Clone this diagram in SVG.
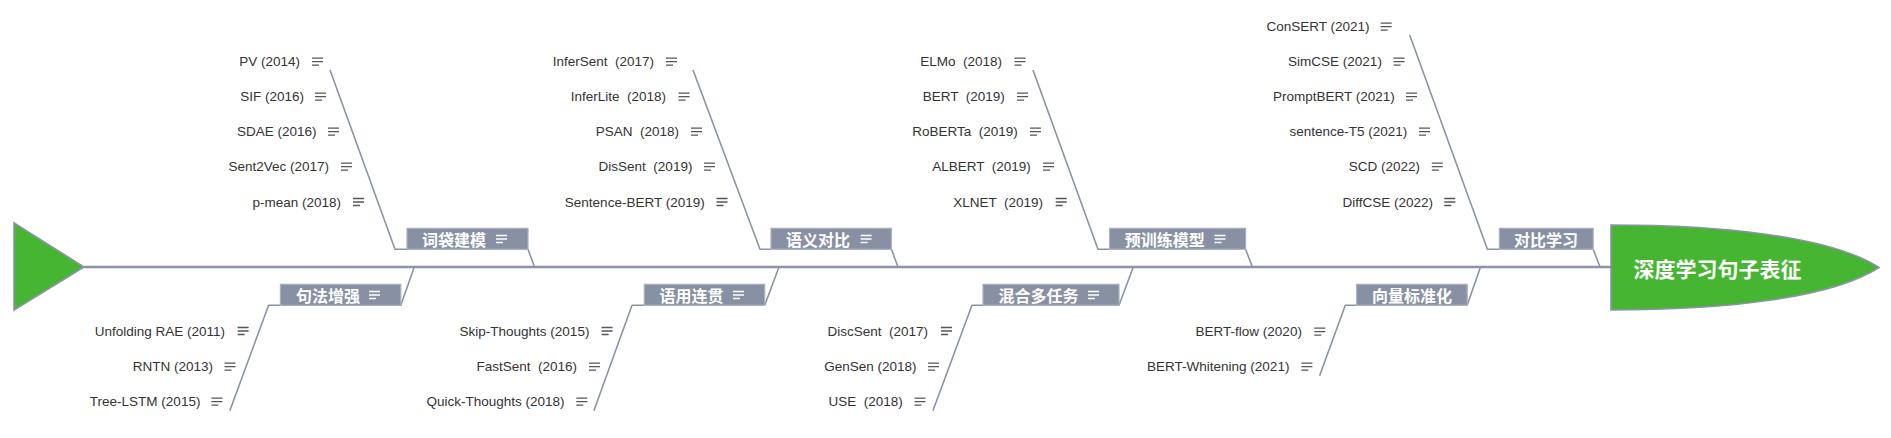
<svg xmlns="http://www.w3.org/2000/svg" xmlns:xlink="http://www.w3.org/1999/xlink" width="1891" height="438" viewBox="0 0 1891 438">
<style>
.ln{fill:none;stroke:#8a94a6;stroke-width:1.6;stroke-linejoin:round}
.spine{fill:none;stroke:#8a94a6;stroke-width:2.4}
.box{fill:#8891a4;stroke:#a9b1bf;stroke-width:1.2}
.bt{font-family:"Noto Sans CJK SC","Liberation Sans",sans-serif;font-weight:bold;font-size:16px;fill:#ffffff;dominant-baseline:central}
.it{font-family:"Liberation Sans","Noto Sans",sans-serif;font-size:13.5px;fill:#333333;text-anchor:end;dominant-baseline:central;white-space:pre}
.ic{stroke:#555555}
.icw{stroke:#ffffff}
.ht{font-family:"Noto Sans CJK SC","Liberation Sans",sans-serif;font-weight:bold;font-size:21px;fill:#ffffff;dominant-baseline:central}
.green{fill:#46b531;stroke:#8a94a6;stroke-width:1.6}
</style>
<defs>
<path id="notes" d="M0,0.5h11M0,4h11M0,7.5h7" fill="none" stroke-width="1.3"/>
</defs>
<rect width="1891" height="438" fill="#ffffff"/>

<g id="connectors">
<path class="spine" d="M84,267H1611"/>
<path class="ln" d="M330,70L395,249.3H407M528,249.3L534.5,267"/>
<path class="ln" d="M693,70L760,249.3H771M891.4,249.3L898,267"/>
<path class="ln" d="M1033,70L1098,249.3H1109.6M1245.6,249.3L1252.4,267"/>
<path class="ln" d="M1409.7,35L1487.4,249.3H1499.4M1593.2,249.3L1600,267"/>
<path class="ln" d="M414.3,267L400.8,305.3H280.4M280.4,305.3H268.6L229.8,410.7"/>
<path class="ln" d="M779,267L764.7,305.3M644.3,305.3H632L593.9,410.7"/>
<path class="ln" d="M1133.3,267L1119,305.3M983,305.3H972L932.9,410.7"/>
<path class="ln" d="M1480.5,267L1467.2,305.3M1356.6,305.3H1345.3L1319.6,375.7"/>
</g>

<g id="tail"><path class="green" d="M14,223L84,267L14,310Z"/></g>

<g id="head">
<path class="green" d="M1611,225C1720,225 1830,236 1879,267.5C1830,299 1720,310 1611,310Z"/>
<text class="ht" x="1633.4" y="267.5">深度学习句子表征</text>
</g>

<g id="cat-bow"><rect class="box" x="407" y="228.3" width="121" height="21"/><text class="bt" x="422" y="238.8">词袋建模</text><use xlink:href="#notes" class="icw" x="496" y="235"/></g>
<g id="cat-semantic"><rect class="box" x="771" y="228.3" width="120.4" height="21"/><text class="bt" x="786" y="238.8">语义对比</text><use xlink:href="#notes" class="icw" x="860.6" y="235"/></g>
<g id="cat-pretrain"><rect class="box" x="1109.6" y="228.3" width="136" height="21"/><text class="bt" x="1124.7" y="238.8">预训练模型</text><use xlink:href="#notes" class="icw" x="1214.5" y="235"/></g>
<g id="cat-contrast"><rect class="box" x="1499.4" y="228.3" width="93.8" height="21"/><text class="bt" x="1514" y="238.8">对比学习</text></g>
<g id="cat-syntax"><rect class="box" x="280.4" y="284.3" width="120.4" height="21"/><text class="bt" x="296" y="294.8">句法增强</text><use xlink:href="#notes" class="icw" x="369" y="291"/></g>
<g id="cat-pragmatic"><rect class="box" x="644.3" y="284.3" width="120.4" height="21"/><text class="bt" x="659.4" y="294.8">语用连贯</text><use xlink:href="#notes" class="icw" x="733" y="291"/></g>
<g id="cat-multitask"><rect class="box" x="983" y="284.3" width="136" height="21"/><text class="bt" x="998.6" y="294.8">混合多任务</text><use xlink:href="#notes" class="icw" x="1088" y="291"/></g>
<g id="cat-normalize"><rect class="box" x="1356.6" y="284.3" width="110.6" height="21"/><text class="bt" x="1371.9" y="294.8">向量标准化</text></g>

<g id="item-pv"><text class="it" x="300" y="61.7">PV (2014)</text><use xlink:href="#notes" class="ic" x="312" y="57.7"/></g>
<g id="item-sif"><text class="it" x="304" y="96.7">SIF (2016)</text><use xlink:href="#notes" class="ic" x="315" y="92.7"/></g>
<g id="item-sdae"><text class="it" x="316.5" y="131.7">SDAE (2016)</text><use xlink:href="#notes" class="ic" x="328" y="127.7"/></g>
<g id="item-sent2vec"><text class="it" x="329" y="166.7">Sent2Vec (2017)</text><use xlink:href="#notes" class="ic" x="341" y="162.7"/></g>
<g id="item-pmean"><text class="it" x="341" y="202">p-mean (2018)</text><use xlink:href="#notes" class="ic" x="353" y="198"/></g>

<g id="item-infersent"><text class="it" x="654" y="61.7">InferSent  (2017)</text><use xlink:href="#notes" class="ic" x="666" y="57.7"/></g>
<g id="item-inferlite"><text class="it" x="666" y="96.7">InferLite  (2018)</text><use xlink:href="#notes" class="ic" x="678.5" y="92.7"/></g>
<g id="item-psan"><text class="it" x="679" y="131.7">PSAN  (2018)</text><use xlink:href="#notes" class="ic" x="691" y="127.7"/></g>
<g id="item-dissent"><text class="it" x="692.4" y="166.7">DisSent  (2019)</text><use xlink:href="#notes" class="ic" x="704" y="162.7"/></g>
<g id="item-sbert"><text class="it" x="704.7" y="202">Sentence-BERT (2019)</text><use xlink:href="#notes" class="ic" x="716.5" y="198"/></g>

<g id="item-elmo"><text class="it" x="1002" y="61.7">ELMo  (2018)</text><use xlink:href="#notes" class="ic" x="1014.5" y="57.7"/></g>
<g id="item-bert"><text class="it" x="1004.7" y="96.7">BERT  (2019)</text><use xlink:href="#notes" class="ic" x="1017" y="92.7"/></g>
<g id="item-roberta"><text class="it" x="1017.8" y="131.7">RoBERTa  (2019)</text><use xlink:href="#notes" class="ic" x="1030" y="127.7"/></g>
<g id="item-albert"><text class="it" x="1030.8" y="166.7">ALBERT  (2019)</text><use xlink:href="#notes" class="ic" x="1043" y="162.7"/></g>
<g id="item-xlnet"><text class="it" x="1043" y="202">XLNET  (2019)</text><use xlink:href="#notes" class="ic" x="1055.7" y="198"/></g>

<g id="item-consert"><text class="it" x="1369.5" y="26.7">ConSERT (2021)</text><use xlink:href="#notes" class="ic" x="1380.7" y="22.7"/></g>
<g id="item-simcse"><text class="it" x="1381.9" y="61.7">SimCSE (2021)</text><use xlink:href="#notes" class="ic" x="1393.6" y="57.7"/></g>
<g id="item-promptbert"><text class="it" x="1394.8" y="96.7">PromptBERT (2021)</text><use xlink:href="#notes" class="ic" x="1406" y="92.7"/></g>
<g id="item-st5"><text class="it" x="1407.3" y="131.7">sentence-T5 (2021)</text><use xlink:href="#notes" class="ic" x="1419" y="127.7"/></g>
<g id="item-scd"><text class="it" x="1420" y="166.7">SCD (2022)</text><use xlink:href="#notes" class="ic" x="1431.8" y="162.7"/></g>
<g id="item-diffcse"><text class="it" x="1433" y="202">DiffCSE (2022)</text><use xlink:href="#notes" class="ic" x="1444.3" y="198"/></g>

<g id="item-urae"><text class="it" x="225" y="331">Unfolding RAE (2011)</text><use xlink:href="#notes" class="ic" x="237.6" y="327"/></g>
<g id="item-rntn"><text class="it" x="213" y="366.7">RNTN (2013)</text><use xlink:href="#notes" class="ic" x="224.5" y="362.7"/></g>
<g id="item-treelstm"><text class="it" x="200.4" y="401.7">Tree-LSTM (2015)</text><use xlink:href="#notes" class="ic" x="211.4" y="397.7"/></g>

<g id="item-skip"><text class="it" x="589.4" y="331">Skip-Thoughts (2015)</text><use xlink:href="#notes" class="ic" x="601.6" y="327"/></g>
<g id="item-fastsent"><text class="it" x="577" y="366.7">FastSent  (2016)</text><use xlink:href="#notes" class="ic" x="589" y="362.7"/></g>
<g id="item-quick"><text class="it" x="564.5" y="401.7">Quick-Thoughts (2018)</text><use xlink:href="#notes" class="ic" x="576.3" y="397.7"/></g>

<g id="item-discsent"><text class="it" x="928" y="331">DiscSent  (2017)</text><use xlink:href="#notes" class="ic" x="941" y="327"/></g>
<g id="item-gensen"><text class="it" x="916.5" y="366.7">GenSen (2018)</text><use xlink:href="#notes" class="ic" x="928" y="362.7"/></g>
<g id="item-use"><text class="it" x="902.7" y="401.7">USE  (2018)</text><use xlink:href="#notes" class="ic" x="914.5" y="397.7"/></g>

<g id="item-bertflow"><text class="it" x="1301.9" y="331.7">BERT-flow (2020)</text><use xlink:href="#notes" class="ic" x="1314.3" y="327.7"/></g>
<g id="item-bertwhite"><text class="it" x="1289.4" y="366.7">BERT-Whitening (2021)</text><use xlink:href="#notes" class="ic" x="1301.4" y="362.7"/></g>
</svg>
